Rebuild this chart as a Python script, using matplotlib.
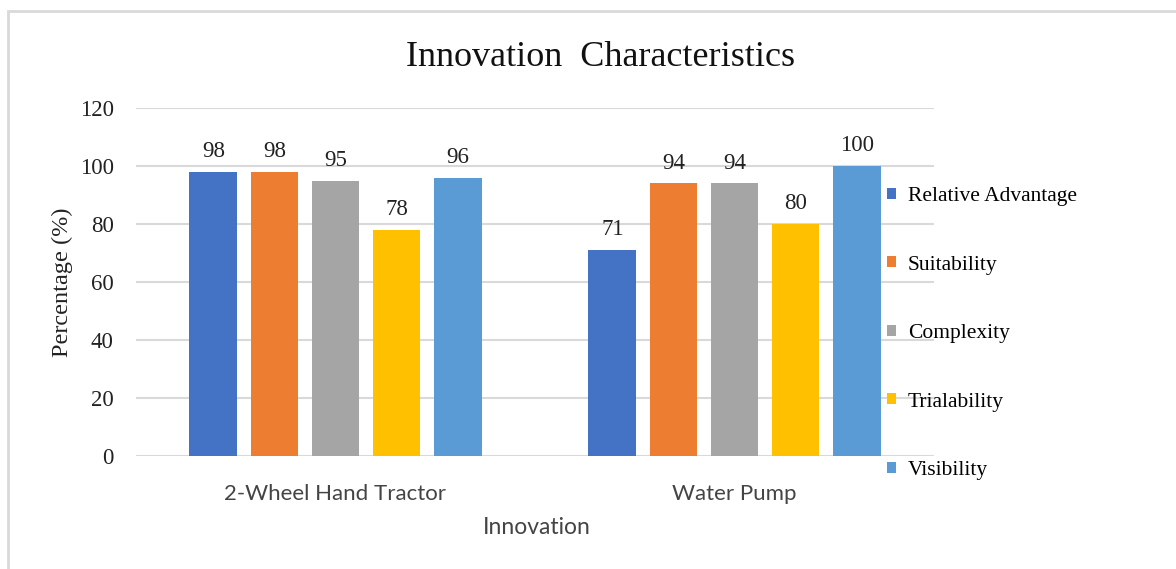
import numpy as np
import matplotlib
matplotlib.use('Agg')
import matplotlib.pyplot as plt
from matplotlib.patches import Rectangle

# chart data
innovations = ['2-Wheel Hand Tractor', 'Water Pump']
characteristics = ['Relative Advantage', 'Suitability', 'Complexity', 'Trialability', 'Visibility']
relative_advantage = [98, 71]
suitability = [98, 94]
complexity = [95, 94]
trialability = [78, 80]
visibility = [96, 100]
yticks = [0, 20, 40, 60, 80, 100, 120]

series = [relative_advantage, suitability, complexity, trialability, visibility]
colors = ['#4472C4', '#ED7D31', '#A5A5A5', '#FFC000', '#5B9BD5']

serif = 'Liberation Serif'
sans = 'Lato'

fig = plt.figure(figsize=(11.76, 5.69), dpi=100)
ax = fig.add_axes([136/1176, 1-456/569, (934-136)/1176, (456-108)/569])

x = np.arange(len(innovations))
width = 0.12
step = 0.153
for i, (vals, col, name) in enumerate(zip(series, colors, characteristics)):
    bars = ax.bar(x + (i - 2) * step, vals, width, color=col, label=name, zorder=3)
    ax.bar_label(bars, padding=7, fontsize=16.5, family=serif, color='#222222')

ax.set_xlim(-0.5, 1.5)
ax.set_ylim(0, 120)
ax.set_yticks(yticks)
ax.set_yticklabels([str(t) for t in yticks], family=serif, fontsize=16.5, color='#222222')
ax.set_xticks(x)
ax.set_xticklabels(innovations, family=sans, fontsize=16, color='#444444')
ax.tick_params(axis='y', length=0, pad=16)
ax.tick_params(axis='x', length=0, pad=20)
ax.grid(axis='y', color='#D9D9D9', linewidth=1.5, zorder=0)
for s in ax.spines.values():
    s.set_visible(False)

ax.set_ylabel('Percentage (%)', family=serif, fontsize=17.5, color='#222222', labelpad=5)
fig.text(537/1176, 1-527/569, 'Innovation', family=sans, fontsize=16.5, color='#444444',
         ha='center', va='center')
fig.text(600/1176, 1-57/569, 'Innovation  Characteristics', family=serif, fontsize=26,
         color='#111111', ha='center', va='center')

ax.legend(loc='upper left', bbox_to_anchor=(887/1176, 1-187/569), bbox_transform=fig.transFigure,
          frameon=False, prop={'family': serif, 'size': 15.5}, handlelength=0.42, handleheight=0.42,
          handletextpad=0.55, labelspacing=2.3, borderpad=0, borderaxespad=0)

# chart border (cropped at right and bottom)
fig.patches.append(Rectangle((8/1176, -0.1), 1.2, 0.1 + 1-11/569, transform=fig.transFigure,
                             fill=False, edgecolor='#D9D9D9', linewidth=2))

fig.savefig('out.png', dpi=100)
